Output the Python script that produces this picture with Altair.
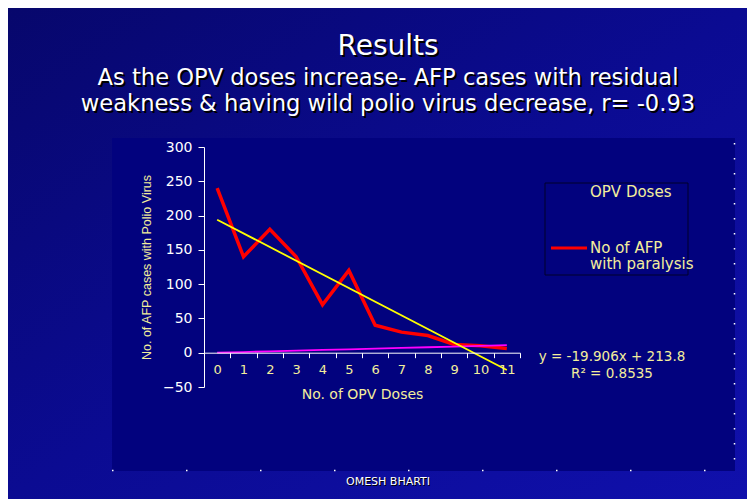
import altair as alt
import pandas as pd

# ---------------- data ----------------
doses = [0, 1, 2, 3, 4, 5, 6, 7, 8, 9, 10, 11]
afp_cases = [240, 140, 180, 140, 70, 120, 40, 30, 25, 12, 10, 6]
opv_series = [0, 1, 2, 3, 4, 5, 6, 7, 8, 9, 10, 11]
y_ticks = [-50, 0, 50, 100, 150, 200, 250, 300]

title_text = "Results"
subtitle_lines = [
    "As the OPV doses increase- AFP cases with residual",
    "weakness & having wild polio virus decrease, r= -0.93",
]
x_title = "No. of OPV Doses"
y_title = "No. of AFP cases with Polio Virus"
legend_labels = ["OPV Doses", "No of AFP", "with paralysis"]
equation = "y = -19.906x + 213.8"
r2_text = "R\u00b2 = 0.8535"
footer = "OMESH BHARTI"

df = pd.DataFrame({"dose": doses, "cases": afp_cases, "opv": opv_series})
one = pd.DataFrame({"k": [0]})

FONT = "DejaVu Sans"
PALE = "#f3ee9c"

x_axis = alt.Axis(
    title=x_title, offset=-34.3, tickBand="extent", tickSize=5, labelPadding=6,
    labelColor=PALE, labelFontSize=13, labelAngle=0, titleColor=PALE,
    titleFontSize=14, titlePadding=11, domainColor="white", tickColor="white",
    labelFont=FONT, titleFont=FONT, titleFontWeight="normal", zindex=1,
)
y_axis = alt.Axis(
    title=y_title, values=y_ticks, tickSize=6, labelPadding=6, labelColor="white",
    labelFontSize=14, titleColor=PALE, titleFontSize=12.5, titlePadding=9,
    domainColor="white", tickColor="white", labelFont=FONT,
    titleFont="Liberation Sans", titleFontWeight="normal", zindex=1,
)
x_scale = alt.Scale(type="band", domain=doses, paddingInner=0, paddingOuter=0)
y_scale = alt.Scale(domain=[-50, 300], nice=False, zero=False)


def xenc():
    return alt.X("dose:O", scale=x_scale, bandPosition=0.5, axis=x_axis)


def txt(s, x, y, size, color, align="center", font=FONT):
    return alt.Chart(one).mark_text(
        text=s, fontSize=size, color=color, align=align, baseline="middle", font=font
    ).encode(x=alt.value(x), y=alt.value(y))


def shadow_txt(s, x, y, size, off=2):
    return [txt(s, x + off, y + off, size, "black"), txt(s, x, y, size, "white")]


slide_bg = alt.Chart(one).mark_rect(
    color=alt.LinearGradient(
        gradient="linear", x1=0, y1=0, x2=1, y2=1,
        stops=[alt.GradientStop(color="#07076c", offset=0),
               alt.GradientStop(color="#0b0b92", offset=0.5),
               alt.GradientStop(color="#1010ac", offset=1)],
    )
).encode(x=alt.value(-196), x2=alt.value(543), y=alt.value(-139), y2=alt.value(352))

plot_bg = alt.Chart(one).mark_rect(color="#02027e").encode(
    x=alt.value(-92), x2=alt.value(531), y=alt.value(-9), y2=alt.value(324))

dots_bottom = alt.Chart(one).mark_rule(color="white", strokeDash=[1.5, 72.5], strokeWidth=1.5).encode(
    x=alt.value(-92), x2=alt.value(532), y=alt.value(323.5))
dots_right = alt.Chart(one).mark_rule(color="white", strokeDash=[1.5, 13.5], strokeWidth=1.5).encode(
    x=alt.value(530.5), y=alt.value(-4), y2=alt.value(325))

legend_box = alt.Chart(one).mark_rect(fill="#02027e", stroke="#00002a", strokeWidth=1).encode(
    x=alt.value(341), x2=alt.value(484), y=alt.value(36), y2=alt.value(128))
legend_swatch = alt.Chart(one).mark_rule(color="#ff0000", strokeWidth=3).encode(
    x=alt.value(347), x2=alt.value(383), y=alt.value(101))

red_line = alt.Chart(df).mark_line(color="#ff0000", strokeWidth=3.5).encode(
    x=xenc(), y=alt.Y("cases:Q", scale=y_scale, axis=y_axis))
magenta_line = alt.Chart(df).mark_line(color="#ff00ff", strokeWidth=1.8).encode(
    x=xenc(), y=alt.Y("opv:Q", scale=y_scale, axis=y_axis))
trend_line = alt.Chart(df).transform_regression("dose", "cases", method="linear").mark_line(
    color="#ffff00", strokeWidth=1.8).encode(
    x=xenc(), y=alt.Y("cases:Q", scale=y_scale, axis=y_axis))

layers = [slide_bg, plot_bg, dots_bottom, dots_right, legend_box, legend_swatch,
          red_line, magenta_line, trend_line]
layers += shadow_txt(title_text, 184, -100, 28)
layers += shadow_txt(subtitle_lines[0], 184, -69, 22.6)
layers += shadow_txt(subtitle_lines[1], 184, -43, 22.6)
layers += shadow_txt(footer, 184, 335, 11, off=1)
layers += [
    txt(legend_labels[0], 386, 45, 15, PALE, align="left"),
    txt(legend_labels[1], 386, 101, 15, PALE, align="left"),
    txt(legend_labels[2], 386, 117, 15, PALE, align="left"),
    txt(equation, 408, 210, 13.5, PALE),
    txt(r2_text, 408, 227, 13.5, PALE),
]

chart = alt.layer(*layers).properties(
    width=316, height=240,
    autosize=alt.AutoSizeParams(type="none"),
    padding={"left": 196, "top": 139, "right": 227, "bottom": 112},
    background="#0b0b8c",
).configure_view(strokeWidth=0).configure_axis(grid=False)

chart.save("out.html", embed_options={"renderer": "svg", "actions": False})
